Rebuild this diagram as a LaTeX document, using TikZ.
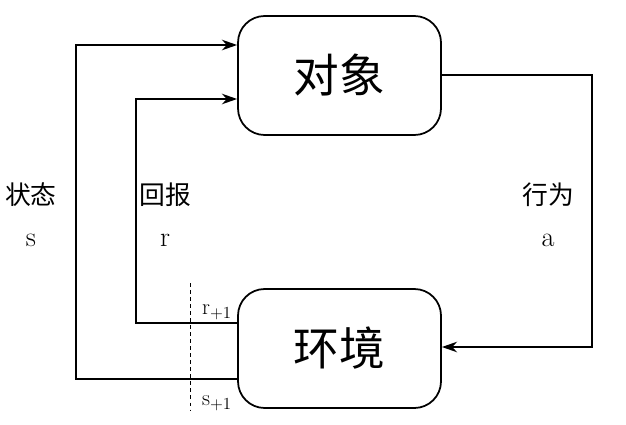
\documentclass[tikz,border=0pt]{standalone}
\usepackage{fontspec}
\newfontfamily\cjk{Noto Sans CJK SC}
\usetikzlibrary{arrows.meta}
\begin{document}
\begin{tikzpicture}[x=0.03cm,y=-0.03cm,
  boxnode/.style={draw,line width=1.5pt,rounded corners=0.8cm,minimum width=6.09cm,minimum height=3.57cm,inner sep=0pt,font=\cjk\fontsize{39}{44}\selectfont},
  conn/.style={line width=1.5pt},
  arr/.style={conn,-{Stealth[length=13pt,width=9pt]}},
  lab/.style={font=\cjk\fontsize{22}{26}\selectfont},
  sym/.style={font=\fontsize{24}{26}\selectfont}]
\useasboundingbox (0,0) rectangle (626,424);
\node[boxnode] (obj) at (339.5,75.5) {对象};
\node[boxnode] (env) at (339.5,348.5) {环境};
\coordinate (sL) at (76,379);
\coordinate (sT) at (76,45);
\coordinate (rL) at (136,323);
\coordinate (rT) at (136,99);
\coordinate (aR) at (592,75);
\coordinate (aB) at (592,347);
\draw[arr] (env.west |- sL) -- (sL) -- (sT) -- (obj.west |- sT);
\draw[arr] (env.west |- rL) -- (rL) -- (rT) -- (obj.west |- rT);
\draw[arr] (obj.east |- aR) -- (aR) -- (aB) -- (env.east |- aB);
\coordinate (dT) at (190,283);
\coordinate (dB) at (190,410);
\draw[dashed,line width=0.7pt] (dT) -- (dB);
\node[lab] (l1) at (31,195) {状态};
\node[sym] (l1s) at (31,240) {s};
\node[lab] (l2) at (165,195) {回报};
\node[sym] (l2s) at (165,240) {r};
\node[lab] (l3) at (548,195) {行为};
\node[sym] (l3s) at (548,240) {a};
\node[font=\fontsize{19}{21}\selectfont] (r1) at (217,312) {r$_{+1}$};
\node[font=\fontsize{19}{21}\selectfont] (s1) at (217,403) {s$_{+1}$};
\end{tikzpicture}
\end{document}
